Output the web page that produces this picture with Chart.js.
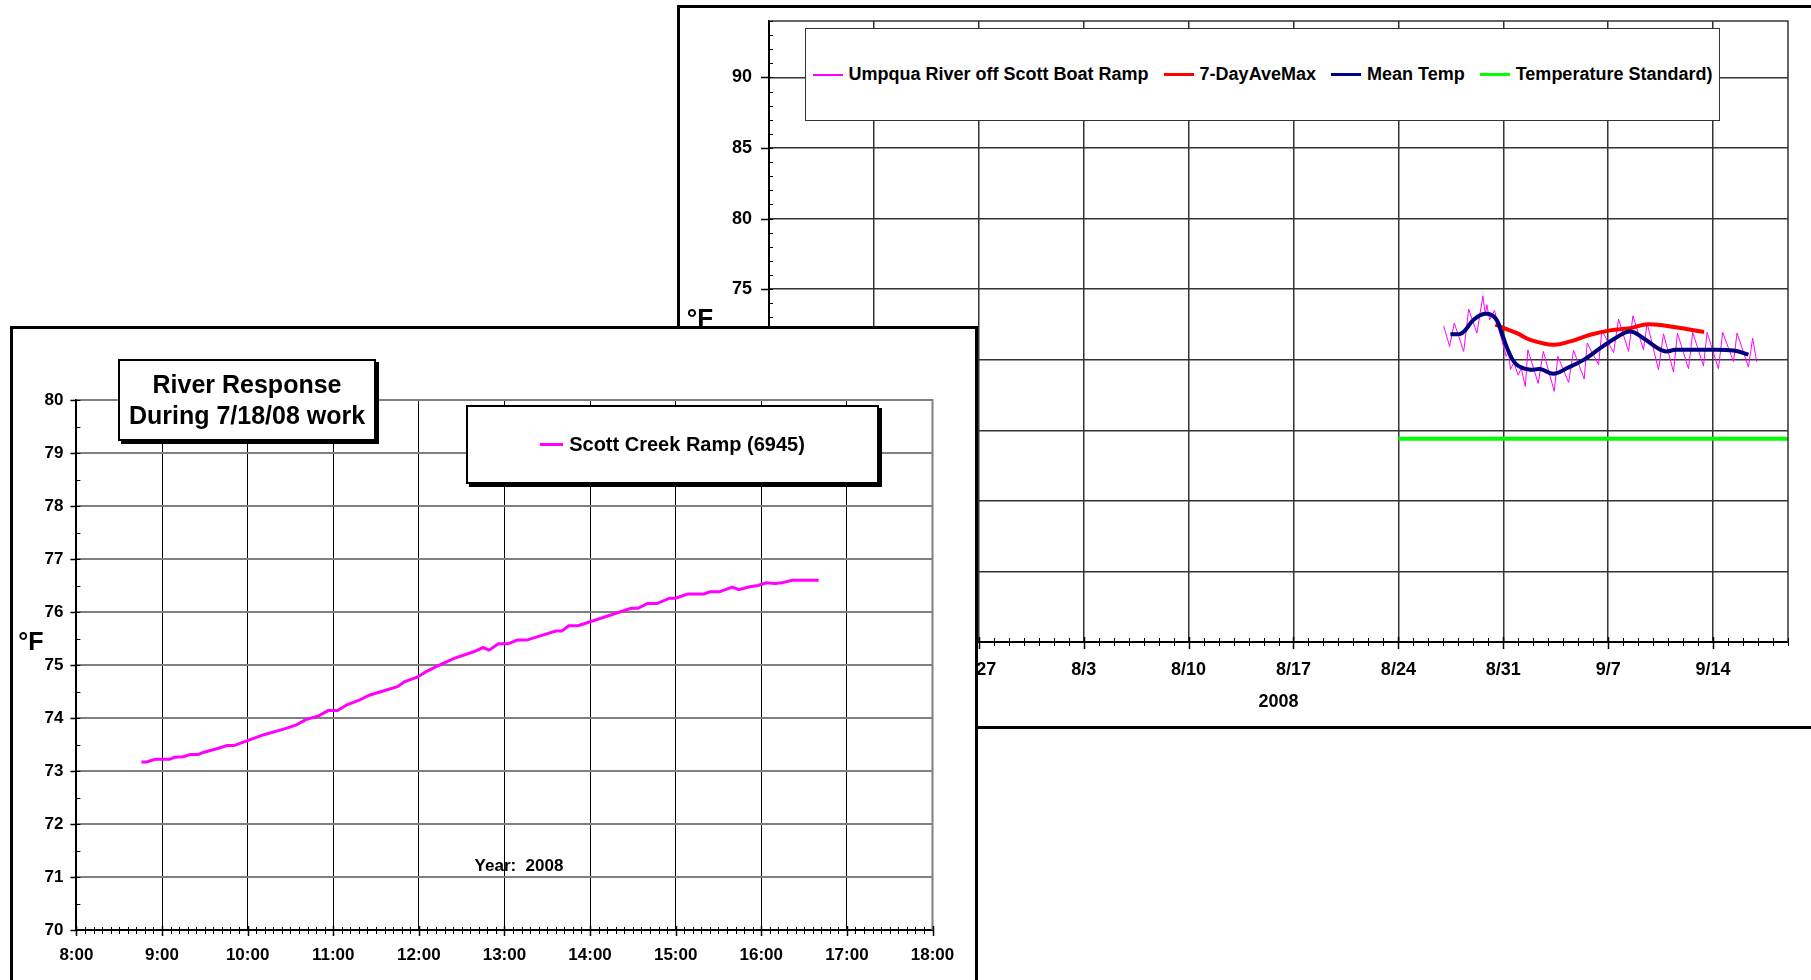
<!DOCTYPE html>
<html>
<head>
<meta charset="utf-8">
<title>River Response</title>
<script src="https://cdn.jsdelivr.net/npm/chart.js@4/dist/chart.umd.min.js"></script>
<style>
  html, body { margin: 0; padding: 0; width: 1811px; height: 980px; overflow: hidden; background: #fff;
    font-family: "Liberation Sans", Arial, Helvetica, sans-serif; font-weight: bold; color: #000; }
  .panel { position: absolute; border: 3px solid #000; background: #fff; box-sizing: border-box; }
  #back { left: 677px; top: 5px; width: 1150px; height: 724px; z-index: 1; }
  #front { left: 10px; top: 326px; width: 968px; height: 670px; z-index: 2; }
  .panel canvas { position: absolute; left: 0; top: 0; }
  .box { position: absolute; background: #fff; box-sizing: border-box; z-index: 3; }
  .legend { display: flex; align-items: center; justify-content: center; white-space: pre; }
  #back-legend { left: 125px; top: 20px; width: 915px; height: 93px; border: 1px solid #333; font-size: 18px; }
  #front-legend { left: 453px; top: 76px; width: 413px; height: 79px; border: 2px solid #000;
    box-shadow: 3px 3px 0 #000; font-size: 20px; }
  #title-box { left: 105px; top: 30px; width: 258px; height: 82px; border: 2px solid #000;
    box-shadow: 3px 3px 0 #000; font-size: 25px; line-height: 31px; text-align: center;
    display: flex; flex-direction: column; justify-content: center; }
  .item { display: flex; align-items: center; margin-right: 15px; }
  .item:last-child { margin-right: 0; }
  .swatch { display: inline-block; margin-right: 6px; }
</style>
</head>
<body>
<div id="back" class="panel">
  <canvas id="back-chart" width="1144" height="718"></canvas>
  <div id="back-legend" class="box legend"></div>
</div>
<div id="front" class="panel">
  <canvas id="front-chart" width="962" height="664"></canvas>
  <div id="title-box" class="box"><div>River Response</div><div>During 7/18/08 work</div></div>
  <div id="front-legend" class="box legend"></div>
</div>
<script>
/* Umpqua River temperatures, summer 2008 (two overlapping Excel charts) */

const FONT = '"Liberation Sans", Arial, Helvetica, sans-serif';

/* ---- Back chart: days counted from 7/13 ---- */
const BACK_X_TICKS = [0, 7, 14, 21, 28, 35, 42, 49, 56, 63];
const BACK_X_LABELS = ['7/13', '7/20', '7/27', '8/3', '8/10', '8/17', '8/24', '8/31', '9/7', '9/14'];
const BACK_Y_TICKS = [50, 55, 60, 65, 70, 75, 80, 85, 90];

const UMPQUA_DAYS = [45.02, 45.42, 45.73, 46.36, 46.69, 47.24, 47.64, 47.8, 47.9, 48.09,
  48.42, 48.64, 49.2, 49.35, 49.48, 49.7, 50.0, 50.2, 50.47, 50.64,
  51.33, 51.67, 52.4, 52.64, 53.36, 53.69, 54.4, 54.6, 55.36, 55.58,
  56.36, 56.69, 57.36, 57.65, 58.36, 58.6, 59.36, 59.69, 60.36, 60.62,
  61.36, 61.64, 62.36, 62.6, 63.36, 63.64, 64.36, 64.6, 65.36, 65.64, 65.91];
const UMPQUA_TEMPS = [72.4, 70.94, 72.6, 70.59, 73.59, 71.89, 74.53, 73.2, 73.9, 72.83,
  73.5, 72.4, 70.24, 70.6, 69.3, 69.8, 68.9, 69.4, 68.1, 70.7,
  68.32, 70.59, 67.76, 70.24, 68.39, 70.66, 68.63, 71.18, 69.65, 72.08,
  70.5, 72.88, 70.59, 73.11, 70.7, 72.6, 69.28, 71.84, 69.12, 71.89,
  69.36, 71.94, 69.55, 71.94, 69.36, 71.94, 69.86, 71.89, 69.48, 71.53, 69.85];

const SEVEN_DAY_DAYS = [48.47, 49.91, 50.8, 52.36, 53.47, 54.8, 56.13, 57.47, 58.69, 60.5, 62.4];
const SEVEN_DAY_TEMPS = [72.48, 71.88, 71.41, 71.06, 71.3, 71.77, 72.08, 72.24, 72.52, 72.3, 71.96];

const MEAN_DAYS = [45.47, 46.24, 47.02, 47.8, 48.47, 48.9, 49.35, 49.9, 50.8, 51.47, 52.36,
  53.24, 54.36, 55.47, 56.58, 57.47, 58.3, 59.69, 60.5, 62.13, 64.36, 65.36];
const MEAN_TEMPS = [71.81, 71.88, 72.83, 73.25, 72.95, 71.88, 70.59, 69.65, 69.29, 69.34, 69.0,
  69.4, 69.99, 70.82, 71.6, 72.0, 71.56, 70.62, 70.7, 70.7, 70.66, 70.36];

const STANDARD_DAYS = [42, 68];
const STANDARD_TEMPS = [64.4, 64.4];

/* ---- Front chart: hours of 7/18/08 ---- */
const FRONT_X_TICKS = [8, 9, 10, 11, 12, 13, 14, 15, 16, 17, 18];
const FRONT_Y_TICKS = [70, 71, 72, 73, 74, 75, 76, 77, 78, 79, 80];
const FRONT_HOURS = [8.76, 8.82, 8.92, 9.09, 9.15, 9.25, 9.33, 9.42, 9.48, 9.66,
  9.76, 9.84, 9.99, 10.18, 10.44, 10.57, 10.68, 10.83, 10.94, 11.05,
  11.16, 11.31, 11.42, 11.75, 11.83, 11.98, 12.08, 12.27, 12.42, 12.64,
  12.75, 12.82, 12.93, 13.04, 13.15, 13.26, 13.6, 13.67, 13.75, 13.86,
  14.48, 14.56, 14.67, 14.78, 14.93, 15.0, 15.14, 15.33, 15.4, 15.51,
  15.66, 15.74, 15.85, 15.96, 16.06, 16.16, 16.24, 16.36, 16.67];
const FRONT_TEMPS = [73.17, 73.17, 73.22, 73.22, 73.26, 73.27, 73.31, 73.31, 73.35, 73.43,
  73.48, 73.48, 73.57, 73.68, 73.8, 73.87, 73.97, 74.04, 74.14, 74.14,
  74.25, 74.34, 74.43, 74.59, 74.68, 74.77, 74.87, 75.02, 75.13, 75.25,
  75.33, 75.28, 75.4, 75.4, 75.47, 75.47, 75.64, 75.64, 75.74, 75.74,
  76.07, 76.07, 76.16, 76.16, 76.26, 76.26, 76.34, 76.34, 76.38, 76.38,
  76.47, 76.42, 76.47, 76.5, 76.55, 76.54, 76.55, 76.6, 76.6];

/* ---- Helpers ---- */
const pts = (xs, ys) => xs.map((x, i) => ({ x, y: ys[i] }));
const font = (size) => ({ family: FONT, size, weight: 'bold' });

/* tick marks, plot frame and loose texts that Excel draws but Chart.js does not */
const axisDecor = {
  id: 'axisDecor',
  afterDraw(chart, args, opts) {
    const { ctx, chartArea: a, scales } = chart;
    ctx.save();
    ctx.strokeStyle = opts.frameColor;
    ctx.lineWidth = opts.frameWidth;
    ctx.beginPath();
    ctx.moveTo(a.left, a.top);
    ctx.lineTo(a.right, a.top);
    ctx.lineTo(a.right, a.bottom);
    ctx.stroke();

    ctx.strokeStyle = '#000';
    (opts.ticks || []).forEach((t) => {
      const s = scales[t.axis];
      const n = Math.round((t.to - t.from) / t.step);
      ctx.lineWidth = t.width || 1;
      ctx.beginPath();
      for (let i = 0; i <= n; i++) {
        const p = Math.round(s.getPixelForValue(t.from + i * t.step)) + 0.5;
        if (t.axis === 'x') { ctx.moveTo(p, a.bottom - t.inner); ctx.lineTo(p, a.bottom + t.outer); }
        else { ctx.moveTo(a.left - t.outer, p); ctx.lineTo(a.left + t.inner, p); }
      }
      ctx.stroke();
    });

    ctx.fillStyle = '#000';
    ctx.textAlign = 'center';
    ctx.textBaseline = 'middle';
    (opts.texts || []).forEach((t) => {
      ctx.font = `bold ${t.size}px ${FONT}`;
      ctx.fillText(t.text, t.x, t.y);
    });
    ctx.restore();
  },
};

function fixBox(size) {
  return (s) => {
    if (s.isHorizontal()) s.height = size; else s.width = size;
    s.paddingTop = 0; s.paddingBottom = 0; s.paddingLeft = 0; s.paddingRight = 0;
  };
}

function buildLegend(el, chart, swatchW) {
  chart.data.datasets.forEach((ds) => {
    const item = document.createElement('span');
    item.className = 'item';
    const sw = document.createElement('span');
    sw.className = 'swatch';
    sw.style.width = swatchW + 'px';
    sw.style.height = (ds.borderWidth > 2 ? 3 : 2) + 'px';
    sw.style.background = ds.borderColor;
    const tx = document.createElement('span');
    tx.textContent = ds.label;
    item.append(sw, tx);
    el.appendChild(item);
  });
}

/* ---- Back chart ---- */
const backChart = new Chart(document.getElementById('back-chart'), {
  type: 'line',
  data: {
    datasets: [
      { label: 'Umpqua River off Scott Boat Ramp', data: pts(UMPQUA_DAYS, UMPQUA_TEMPS),
        borderColor: '#ff00ff', borderWidth: 1, tension: 0, order: 4 },
      { label: '7-DayAveMax', data: pts(SEVEN_DAY_DAYS, SEVEN_DAY_TEMPS),
        borderColor: '#ff0000', borderWidth: 4, tension: 0.4, order: 2 },
      { label: 'Mean Temp', data: pts(MEAN_DAYS, MEAN_TEMPS),
        borderColor: '#000080', borderWidth: 4, tension: 0.4, order: 1 },
      { label: 'Temperature Standard)', data: pts(STANDARD_DAYS, STANDARD_TEMPS),
        borderColor: '#00ff00', borderWidth: 4, tension: 0, order: 3 },
    ],
  },
  options: {
    responsive: false, animation: false, devicePixelRatio: 1,
    layout: { padding: { left: 0, top: 13, right: 36, bottom: 0 } },
    elements: { point: { radius: 0 } },
    plugins: {
      legend: { display: false }, tooltip: { enabled: false },
      axisDecor: {
        frameColor: '#333', frameWidth: 1.5,
        ticks: [
          { axis: 'y', from: 50, to: 94, step: 1, inner: 4, outer: 0 },
          { axis: 'y', from: 50, to: 90, step: 5, inner: 0, outer: 8, width: 1.5 },
          { axis: 'x', from: 0, to: 68, step: 1, inner: 4, outer: 4 },
          { axis: 'x', from: 0, to: 63, step: 7, inner: 5, outer: 7, width: 1.5 },
        ],
        texts: [{ text: '°F', x: 20, y: 312, size: 26 }],
      },
    },
    scales: {
      x: {
        type: 'linear', min: 0, max: 68,
        afterBuildTicks: (s) => { s.ticks = BACK_X_TICKS.map((v) => ({ value: v })); },
        afterFit: fixBox(84),
        grid: { color: '#333', lineWidth: 1.5, drawTicks: false },
        border: { color: '#000', width: 2 },
        ticks: { padding: 17, autoSkip: false, maxRotation: 0, color: '#000', font: font(18),
          callback: (v) => BACK_X_LABELS[BACK_X_TICKS.indexOf(v)] ?? '' },
        title: { display: true, text: '2008', color: '#000', font: font(18), padding: { top: 0, bottom: 13 } },
      },
      y: {
        type: 'linear', min: 50, max: 94,
        afterBuildTicks: (s) => { s.ticks = BACK_Y_TICKS.map((v) => ({ value: v })); },
        afterFit: fixBox(89),
        grid: { color: '#333', lineWidth: 1.5, drawTicks: false },
        border: { color: '#000', width: 2 },
        ticks: { padding: 17, color: '#000', font: font(18) },
      },
    },
  },
  plugins: [axisDecor],
});

/* ---- Front chart ---- */
const frontChart = new Chart(document.getElementById('front-chart'), {
  type: 'line',
  data: {
    datasets: [
      { label: 'Scott Creek Ramp (6945)', data: pts(FRONT_HOURS, FRONT_TEMPS),
        borderColor: '#ff00ff', borderWidth: 3, tension: 0 },
    ],
  },
  options: {
    responsive: false, animation: false, devicePixelRatio: 1,
    layout: { padding: { left: 0, top: 71, right: 42.5, bottom: 0 } },
    elements: { point: { radius: 0 } },
    plugins: {
      legend: { display: false }, tooltip: { enabled: false },
      axisDecor: {
        frameColor: '#808080', frameWidth: 2,
        ticks: [
          { axis: 'y', from: 70, to: 80, step: 0.5, inner: 4, outer: 0 },
          { axis: 'y', from: 70, to: 80, step: 1, inner: 0, outer: 6, width: 1.5 },
          { axis: 'x', from: 8, to: 18, step: 0.1, inner: 3, outer: 4 },
          { axis: 'x', from: 8, to: 18, step: 1, inner: 4, outer: 6, width: 1.5 },
        ],
        texts: [
          { text: '°F', x: 18, y: 314, size: 25 },
          { text: 'Year:  2008', x: 506, y: 537, size: 17 },
        ],
      },
    },
    scales: {
      x: {
        type: 'linear', min: 8, max: 18,
        afterBuildTicks: (s) => { s.ticks = FRONT_X_TICKS.map((v) => ({ value: v })); },
        afterFit: fixBox(63),
        grid: { color: '#000', lineWidth: 1, drawTicks: false },
        border: { color: '#000', width: 2 },
        ticks: { padding: 15, autoSkip: false, maxRotation: 0, color: '#000', font: font(17),
          callback: (v) => `${v}:00` },
      },
      y: {
        type: 'linear', min: 70, max: 80,
        afterBuildTicks: (s) => { s.ticks = FRONT_Y_TICKS.map((v) => ({ value: v })); },
        afterFit: fixBox(63.4),
        grid: { color: '#808080', lineWidth: 2, drawTicks: false },
        border: { color: '#000', width: 2 },
        ticks: { padding: 13, color: '#000', font: font(17) },
      },
    },
  },
  plugins: [axisDecor],
});

buildLegend(document.getElementById('back-legend'), backChart, 30);
buildLegend(document.getElementById('front-legend'), frontChart, 23);
</script>
</body>
</html>
